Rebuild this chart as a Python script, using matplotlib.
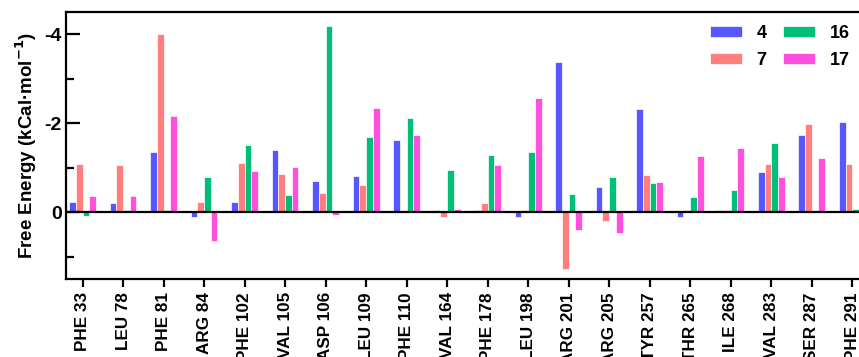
import numpy as np
import matplotlib.pyplot as plt

plt.rcParams['font.family'] = ['Liberation Sans', 'DejaVu Sans']
plt.rcParams['font.weight'] = 'bold'
plt.rcParams['axes.unicode_minus'] = False

residues = ['PHE 33', 'LEU 78', 'PHE 81', 'ARG 84', 'PHE 102', 'VAL 105',
            'ASP 106', 'LEU 109', 'PHE 110', 'VAL 164', 'PHE 178', 'LEU 198',
            'ARG 201', 'ARG 205', 'TYR 257', 'THR 265', 'ILE 268', 'VAL 283',
            'SER 287', 'PHE 291']

e4 = [-0.23, -0.21, -1.36, 0.10, -0.24, -1.40, -0.70, -0.82, -1.63, -0.04,
      -0.04, 0.10, -3.37, -0.56, -2.31, 0.10, -0.05, -0.90, -1.73, -2.02]
e7 = [-1.09, -1.07, -4.00, -0.24, -1.11, -0.85, -0.44, -0.61, -0.05, 0.10,
      -0.21, -0.06, 1.27, 0.20, -0.83, -0.04, -0.05, -1.09, -1.99, -1.09]
e16 = [0.09, -0.05, -0.05, -0.80, -1.51, -0.38, -4.18, -1.69, -2.11, -0.96,
       -1.28, -1.36, -0.41, -0.80, -0.66, -0.35, -0.51, -1.56, 0.0, -0.08]
e17 = [-0.36, -0.36, -2.16, 0.65, -0.93, -1.02, 0.07, -2.35, -1.74, -0.08,
       -1.07, -2.56, 0.39, 0.46, -0.68, -1.27, -1.45, -0.80, -1.21, -0.98]

series = [('4', e4, '#5757FF'), ('7', e7, '#FF7F7F'),
          ('16', e16, '#00BF78'), ('17', e17, '#FF4FDF')]

fig = plt.figure(figsize=(8.59, 3.57), dpi=100)
axw = (82.7 + 19.5*40.5 - 66) / 859
ax = fig.add_axes([66/859, 1-279/357, axw, (279-12)/357])

x = np.arange(len(residues))
w = 0.165
for i, (name, vals, col) in enumerate(series):
    ax.bar(x + (i-1.5)*w, vals, w, color=col, edgecolor='white',
           linewidth=0.5, label=name)

ax.axhline(0, color='black', linewidth=1.6)
ax.set_xlim(-0.41, 19.5)
ax.set_ylim(1.5, -4.5)
ax.set_yticks([-4, -2, 0])
ax.set_yticks([-3, -1, 1], minor=True)
ax.set_xticks(x)
ax.set_xticklabels(residues, rotation=90)
ax.tick_params(axis='x', labelsize=12.3, width=1.6, length=6)
ax.tick_params(axis='y', which='major', labelsize=14, width=1.6, length=10,
               direction='in', pad=3)
ax.tick_params(axis='y', which='minor', width=1.6, length=6, direction='in')
ax.set_ylabel('Free Energy (kCal·mol$^{\\mathbf{-1}}$)', fontsize=13.5,
              fontweight='bold', labelpad=4)
for s in ax.spines.values():
    s.set_linewidth(1.6)

ax.legend(ncol=2, frameon=False, fontsize=13, loc='upper right',
          bbox_to_anchor=((866-66)/(axw*859), 1.012),
          handlelength=1.8, handleheight=0.6, columnspacing=0.9,
          handletextpad=0.8, labelspacing=0.55)

fig.savefig('out.png', dpi=100)
